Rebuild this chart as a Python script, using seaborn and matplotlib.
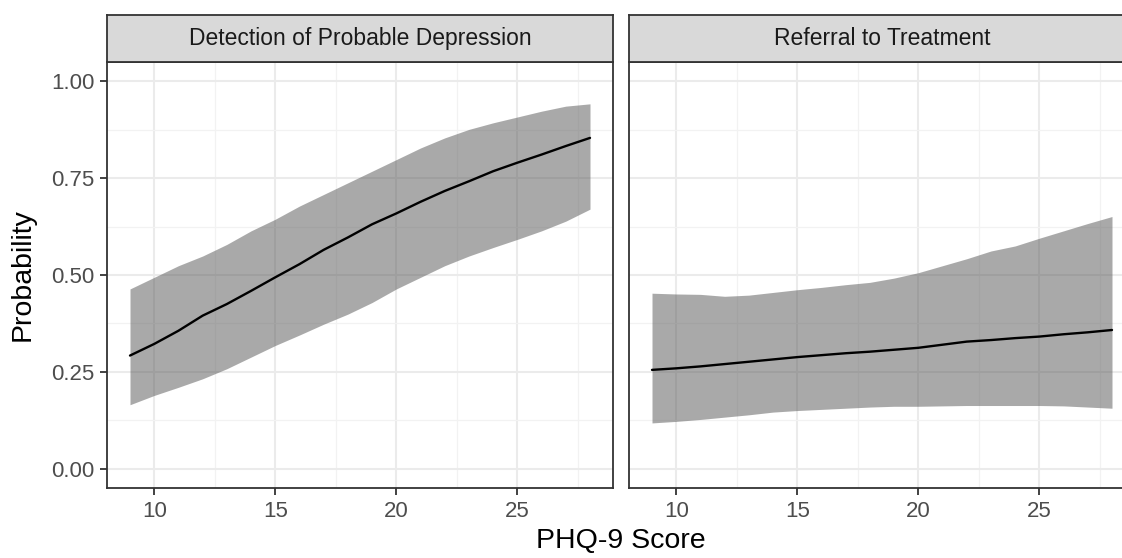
import numpy as np
import pandas as pd
import matplotlib
matplotlib.use("Agg")
import matplotlib.pyplot as plt
import seaborn as sns

# ---- data ----
phq9 = [9, 10, 11, 12, 13, 14, 15, 16, 17, 18, 19, 20, 21, 22, 23, 24, 25, 26, 27, 28]

det_fit = [0.292, 0.322, 0.356, 0.395, 0.425, 0.459, 0.494, 0.528, 0.565, 0.597,
           0.631, 0.659, 0.689, 0.717, 0.742, 0.768, 0.790, 0.811, 0.833, 0.854]
det_hi = [0.464, 0.494, 0.524, 0.549, 0.579, 0.614, 0.644, 0.678, 0.708, 0.738,
          0.768, 0.798, 0.828, 0.854, 0.876, 0.893, 0.908, 0.923, 0.936, 0.942]
det_lo = [0.165, 0.189, 0.210, 0.232, 0.258, 0.288, 0.318, 0.345, 0.373, 0.399,
          0.429, 0.464, 0.494, 0.524, 0.549, 0.571, 0.592, 0.614, 0.639, 0.670]

ref_fit = [0.255, 0.259, 0.264, 0.270, 0.276, 0.282, 0.288, 0.293, 0.298, 0.302,
           0.307, 0.312, 0.320, 0.328, 0.332, 0.337, 0.341, 0.347, 0.352, 0.358]
ref_hi = [0.453, 0.451, 0.450, 0.445, 0.448, 0.455, 0.462, 0.468, 0.475, 0.481,
          0.492, 0.506, 0.524, 0.542, 0.562, 0.575, 0.595, 0.614, 0.633, 0.651]
ref_lo = [0.118, 0.122, 0.127, 0.133, 0.139, 0.146, 0.150, 0.153, 0.156, 0.159,
          0.161, 0.161, 0.162, 0.163, 0.163, 0.163, 0.163, 0.162, 0.159, 0.156]

facets = ["Detection of Probable Depression", "Referral to Treatment"]
x_ticks = [10, 15, 20, 25]
y_ticks = [0.00, 0.25, 0.50, 0.75, 1.00]
y_ticklabels = ["0.00", "0.25", "0.50", "0.75", "1.00"]
x_title = "PHQ-9 Score"
y_title = "Probability"

df = pd.concat([
    pd.DataFrame({"score": phq9, "fit": det_fit, "lo": det_lo, "hi": det_hi, "facet": facets[0]}),
    pd.DataFrame({"score": phq9, "fit": ref_fit, "lo": ref_lo, "hi": ref_hi, "facet": facets[1]}),
])

# ---- style ----
sns.set_theme(style="white")
plt.rcParams["font.family"] = ["Liberation Sans", "DejaVu Sans"]

W, H = 1122, 558
fig = plt.figure(figsize=(W / 100, H / 100), dpi=100)

def fx(px):
    return px / W

def fy(py):
    return 1 - py / H

ax_left_px = [107, 629]
ax_w_px = 506
ax_top_px, ax_bot_px = 62, 488
strip_top_px = 15

border = "#333333"
grid_c = "#EBEBEB"

for i, name in enumerate(facets):
    x0 = fx(ax_left_px[i])
    w = ax_w_px / W
    ax = fig.add_axes([x0, fy(ax_bot_px), w, (ax_bot_px - ax_top_px) / H])
    sub = df[df["facet"] == name]
    ax.fill_between(sub["score"], sub["lo"], sub["hi"], color="#555555", alpha=0.5,
                    linewidth=0, zorder=2)
    sns.lineplot(data=sub, x="score", y="fit", ax=ax, color="black", linewidth=1.7,
                 zorder=3, legend=False)
    ax.set_xlim(8.05, 28.95)
    ax.set_ylim(-0.05, 1.05)
    ax.set_xticks(x_ticks)
    ax.set_xticks([12.5, 17.5, 22.5, 27.5], minor=True)
    ax.set_yticks(y_ticks)
    ax.set_yticks([0.125, 0.375, 0.625, 0.875], minor=True)
    ax.grid(True, which="major", color=grid_c, linewidth=1.5, zorder=0)
    ax.grid(True, which="minor", color="#F2F2F2", linewidth=0.9, zorder=0)
    ax.set_axisbelow(True)
    for sp in ax.spines.values():
        sp.set_color(border)
        sp.set_linewidth(1.3)
        sp.set_visible(True)
    ax.tick_params(axis="both", which="major", direction="out", length=5.2, width=1.3,
                   color=border, labelcolor="#4D4D4D", labelsize=16, pad=4,
                   bottom=True, left=(i == 0))
    ax.tick_params(axis="both", which="minor", length=0)
    if i == 0:
        ax.set_yticklabels(y_ticklabels)
    else:
        ax.set_yticklabels([])
    ax.set_xlabel("")
    ax.set_ylabel("")

    # strip
    sax = fig.add_axes([x0, fy(ax_top_px), w, (ax_top_px - strip_top_px) / H])
    sax.set_facecolor("#D9D9D9")
    sax.set_xticks([])
    sax.set_yticks([])
    for sp in sax.spines.values():
        sp.set_color(border)
        sp.set_linewidth(1.3)
        sp.set_visible(True)
    sax.text(0.5, 0.5, name, transform=sax.transAxes, ha="center", va="center",
             fontsize=16.5, color="#1A1A1A")

# axis titles
fig.text(fx((107 + 1135) / 2), fy(541), x_title, ha="center", va="center",
         fontsize=20.5, color="black")
fig.text(fx(23), fy(275), y_title, ha="center", va="center", rotation=90,
         fontsize=20.5, color="black")

fig.savefig("out.png", dpi=100)
